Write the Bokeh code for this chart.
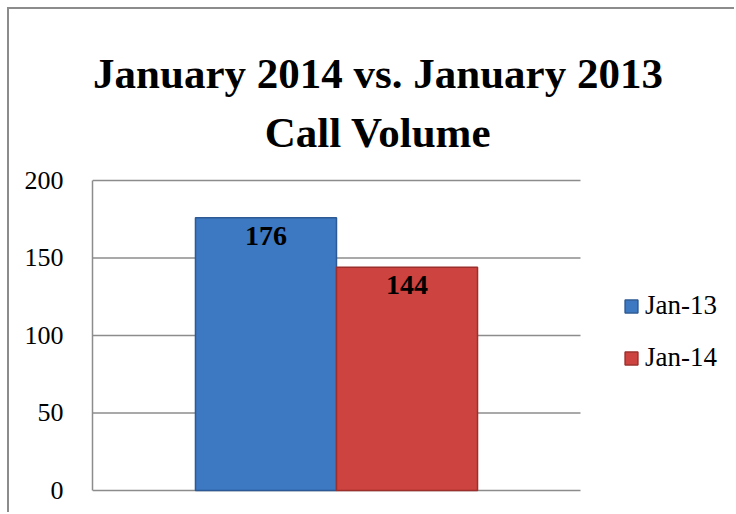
from bokeh.plotting import figure
from bokeh.models import (ColumnDataSource, Range1d, Label, LabelSet,
                          Legend, LegendItem, FixedTicker)
from bokeh.transform import dodge
from bokeh.embed import file_html
from bokeh.resources import INLINE
from bokeh.core.properties import value

# ---- data ----
categories = ["Call Volume"]
series_names = ["Jan-13", "Jan-14"]
jan13_values = [176]
jan14_values = [144]
y_ticks = [0, 50, 100, 150, 200]
title_lines = ["January 2014 vs. January 2013", "Call Volume"]

FONT = "'Liberation Serif', 'Times New Roman', serif"
GRAY = "#8c8c8c"

src = ColumnDataSource(dict(
    xi=list(range(len(categories))),
    cat=categories,
    jan13=jan13_values,
    jan14=jan14_values,
    l13=[str(v) for v in jan13_values],
    l14=[str(v) for v in jan14_values],
))
grid_src = ColumnDataSource(dict(y=y_ticks,
                                 x0=[-0.5] * len(y_ticks),
                                 x1=[len(categories) - 0.5] * len(y_ticks)))

# frame covers the whole area right of the value axis; the plot region is x in [-0.5, 0.5], y in [0, 200]
p = figure(width=727, height=505,
           x_range=Range1d(-0.5, 0.8197), y_range=Range1d(-1.29, 310.3),
           output_backend="svg", toolbar_location=None, x_axis_location=None,
           min_border_left=83, min_border_right=0, min_border_top=0, min_border_bottom=22,
           styles={"border-top": f"2px solid {GRAY}", "border-left": f"2px solid {GRAY}",
                   "border-right": "none", "border-bottom": "none",
                   "margin-left": "7px", "margin-top": "7px"})

p.outline_line_color = None
p.background_fill_color = "white"
p.border_fill_color = "white"
p.xgrid.grid_line_color = None
p.ygrid.grid_line_color = None

ax = p.yaxis[0]
ax.ticker = FixedTicker(ticks=y_ticks)
ax.bounds = (0, 200)
ax.axis_line_color = GRAY
ax.axis_line_width = 1.5
ax.major_tick_line_color = None
ax.minor_tick_line_color = None
ax.major_tick_out = 0
ax.major_tick_in = 0
ax.major_label_standoff = 29
ax.major_label_text_font = FONT
ax.major_label_text_font_size = "26px"
ax.major_label_text_color = "black"

# horizontal gridlines across the plot region only
p.segment(x0="x0", x1="x1", y0="y", y1="y", source=grid_src, line_color=GRAY, line_width=1.5)

BW = 0.289
OFF = 0.1445
r13 = p.vbar(x=dodge("xi", -OFF), top="jan13", width=BW, source=src,
             fill_color="#3d78c3", line_color="#2d5a94", line_width=1.5)
r14 = p.vbar(x=dodge("xi", OFF), top="jan14", width=BW, source=src,
             fill_color="#cc433f", line_color="#9c2f2c", line_width=1.5)

for col, lab, off in (("jan13", "l13", -OFF), ("jan14", "l14", OFF)):
    p.add_layout(LabelSet(x=dodge("xi", off), y=col, text=lab, source=src,
                          y_offset=-9, text_align="center", text_baseline="top",
                          text_font=value(FONT), text_font_style="bold",
                          text_font_size="28px", text_color="black"))

for txt, yy in zip(title_lines, (269.0, 231.0)):
    p.add_layout(Label(x=0.085, y=yy, text=txt, text_align="center", text_baseline="alphabetic",
                       text_font=FONT, text_font_style="bold", text_font_size="43px",
                       text_color="black"))

legend = Legend(items=[LegendItem(label=series_names[0], renderers=[r13]),
                       LegendItem(label=series_names[1], renderers=[r14])],
                location=(531, 119), orientation="vertical")
legend.padding = 0
legend.margin = 0
legend.border_line_color = None
legend.background_fill_alpha = 0
legend.glyph_width = 16
legend.glyph_height = 16
legend.label_height = 16
legend.label_standoff = 6
legend.spacing = 21
legend.label_text_font = FONT
legend.label_text_font_size = "27px"
legend.label_text_color = "black"
p.add_layout(legend)

open("out.html", "w").write(file_html(p, INLINE))
